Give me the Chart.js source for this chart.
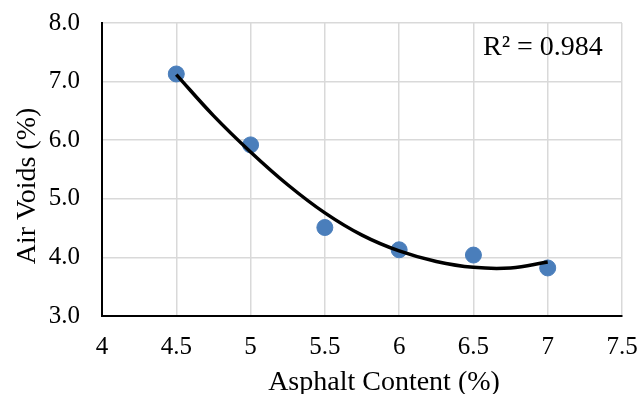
<!DOCTYPE html>
<html>
<head>
<meta charset="utf-8">
<script src="https://cdn.jsdelivr.net/npm/chart.js@4"></script>
<style>
  html, body { margin: 0; padding: 0; background: #fff; }
  #wrap { width: 641px; height: 394px; }
</style>
</head>
<body>
<div id="wrap"><canvas id="chart" width="641" height="394"></canvas></div>
<script>
// measured points
const asphalt = [4.5, 5, 5.5, 6, 6.5, 7];
const airVoids = [7.13, 5.92, 4.51, 4.13, 4.04, 3.82];

// trendline
const trendX = [4.5, 4.75, 5, 5.25, 5.5, 5.75, 6, 6.25, 6.5, 6.75, 7];
const trendY = [7.12, 6.42, 5.80, 5.24, 4.76, 4.38, 4.11, 3.93, 3.83, 3.82, 3.92];

const rSquared = 'R² = 0.984';
const xTitle = 'Asphalt Content (%)';
const yTitle = 'Air Voids (%)';

const serif = '"Liberation Serif", "Times New Roman", serif';

// titles and R² label drawn by hand so they sit where the original has them
const labels = {
    id: 'labels',
    afterDraw(chart) {
        const ctx = chart.ctx;
        ctx.save();
        ctx.fillStyle = '#000';
        ctx.font = '28px ' + serif;
        ctx.textAlign = 'center';
        ctx.textBaseline = 'alphabetic';
        ctx.fillText(xTitle, 384, 390);

        ctx.translate(35, 186);
        ctx.rotate(-Math.PI / 2);
        ctx.fillText(yTitle, 0, 0);
        ctx.restore();

        ctx.save();
        ctx.fillStyle = '#000';
        ctx.font = '28px ' + serif;
        ctx.textAlign = 'left';
        ctx.textBaseline = 'alphabetic';
        ctx.fillText(rSquared, 483, 55);
        ctx.restore();
    }
};

new Chart(document.getElementById('chart'), {
    type: 'scatter',
    data: {
        datasets: [{
            label: 'Trend',
            type: 'line',
            data: trendX.map((x, i) => ({ x: x, y: trendY[i] })),
            borderColor: '#000',
            borderWidth: 3.5,
            pointRadius: 0,
            tension: 0.4,
            fill: false,
            order: 0
        }, {
            label: 'Air voids',
            data: asphalt.map((x, i) => ({ x: x, y: airVoids[i] })),
            backgroundColor: '#4A7EBB',
            borderColor: '#4A7EBB',
            pointRadius: 8,
            order: 1
        }]
    },
    options: {
        responsive: false,
        animation: false,
        layout: { padding: { top: 23, right: 19, left: 0, bottom: 0 } },
        plugins: { legend: { display: false }, tooltip: { enabled: false } },
        scales: {
            x: {
                type: 'linear',
                min: 4, max: 7.5,
                afterFit: s => { s.height = 78; s.paddingLeft = 0; s.paddingRight = 0; },
                grid: { color: '#d9d9d9', lineWidth: 1.5, drawTicks: false },
                border: { color: '#000', width: 2 },
                ticks: {
                    stepSize: 0.5,
                    padding: 16,
                    color: '#000',
                    font: { family: serif, size: 25 },
                    callback: v => String(v)
                }
            },
            y: {
                min: 3, max: 8,
                afterFit: s => { s.width = 102; s.paddingTop = 0; s.paddingBottom = 0; },
                grid: { color: '#d9d9d9', lineWidth: 1.5, drawTicks: false },
                border: { color: '#000', width: 2 },
                ticks: {
                    stepSize: 1,
                    padding: 22,
                    color: '#000',
                    font: { family: serif, size: 25 },
                    callback: v => v.toFixed(1)
                }
            }
        }
    },
    plugins: [labels]
});
</script>
</body>
</html>
